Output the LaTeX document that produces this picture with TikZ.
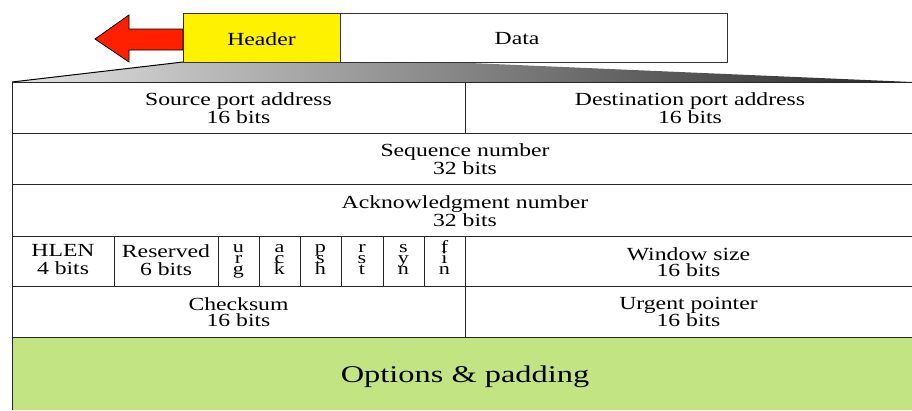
\documentclass[tikz,border=0pt]{standalone}
\usepackage{fontspec}
\setmainfont{Liberation Serif}
\definecolor{optgreen}{RGB}{194,228,130}
\definecolor{arrowred}{RGB}{255,32,0}
\begin{document}
\begin{tikzpicture}[x=1pt,y=-1pt,
  txt/.style={font=\fontsize{18.5}{15.5}\selectfont, align=center, xscale=1.28, inner sep=0pt},
  txtb/.style={font=\fontsize{18.5}{15.5}\selectfont, align=center, xscale=1.28, inner sep=0pt},
  flag/.style={font=\fontsize{17}{12}\selectfont, xscale=1.3, inner sep=0pt, anchor=base, text height=7pt, text depth=0pt},
  cell/.style={draw=black!85, line width=1pt},
  topbox/.style={draw=black!80, line width=0.9pt}]
\useasboundingbox (0,0) rectangle (912,410);
% zoom wedge
\shade[left color=gray!22, right color=black!85] (12,82) -- (183,62) -- (470,63) -- (912,82) -- cycle;
\draw[black, line width=1pt] (12,82) -- (183,62);
% arrow
\draw[fill=arrowred, draw=black, line width=0.8pt] (95,39) -- (129,15) -- (129,29) -- (183,29) -- (183,50) -- (129,50) -- (129,62) -- cycle;
% header / data boxes
\node[topbox, fill=yellow, minimum width=157pt, minimum height=49pt, inner sep=0pt] (hdr) at (261.5,37.5) {};
\node[topbox, fill=white, minimum width=387pt, minimum height=49pt, inner sep=0pt] (dat) at (533.5,37.5) {};
\node[txt] (hdrt) at (261.5,39) {Header};
\node[txt] (datt) at (517,39) {Data};
% table cells
\fill[optgreen] (12,337) rectangle (912,410);
\draw[cell] (12,82) rectangle (465,133);
\draw[cell] (465,82) rectangle (912,133);
\draw[cell] (12,133) rectangle (912,184);
\draw[cell] (12,184) rectangle (912,236);
\draw[cell] (12,236) rectangle (114,286);
\draw[cell] (114,236) rectangle (218,286);
\foreach \a/\b in {218/259,259/300,300/341,341/383,383/424,424/465}
  \draw[cell] (\a,236) rectangle (\b,286);
\draw[cell] (465,236) rectangle (912,286);
\draw[cell] (12,286) rectangle (465,337);
\draw[cell] (465,286) rectangle (912,337);
\draw[cell] (12,337) -- (12,410);
\draw[cell] (12,337) -- (912,337);
% texts
\node[txt] (src) at (238.5,108) {Source port address\\16 bits};
\node[txt] (dst) at (690,108) {Destination port address\\16 bits};
\node[txt] (seq) at (465,159) {Sequence number\\32 bits};
\node[txt] (ack) at (465,211) {Acknowledgment number\\32 bits};
\node[txtb] (hlen) at (63,260) {HLEN\\[2.5pt]4 bits};
\node[txtb] (res) at (166,260) {Reserved\\[2.5pt]6 bits};
\foreach \n/\x/\a/\b/\c in {f1/238.5/u/r/g, f2/279.5/a/c/k, f3/320.5/p/s/h, f4/362/r/s/t, f5/403.5/s/y/n, f6/444.5/f/i/n}{
  \node[flag] (\n a) at (\x,252) {\a};
  \node[flag] (\n b) at (\x,263) {\b};
  \node[flag] (\n c) at (\x,274) {\c};
}
\node[txt] (win) at (688.5,262) {Window size\\16 bits};
\node[txt] (chk) at (238.5,312) {Checksum\\16 bits};
\node[txt] (urg) at (688.5,312) {Urgent pointer\\16 bits};
\node[font=\fontsize{24}{28}\selectfont, xscale=1.35, inner sep=0pt] (opt) at (465,376.5) {Options \& padding};
\end{tikzpicture}
\end{document}
